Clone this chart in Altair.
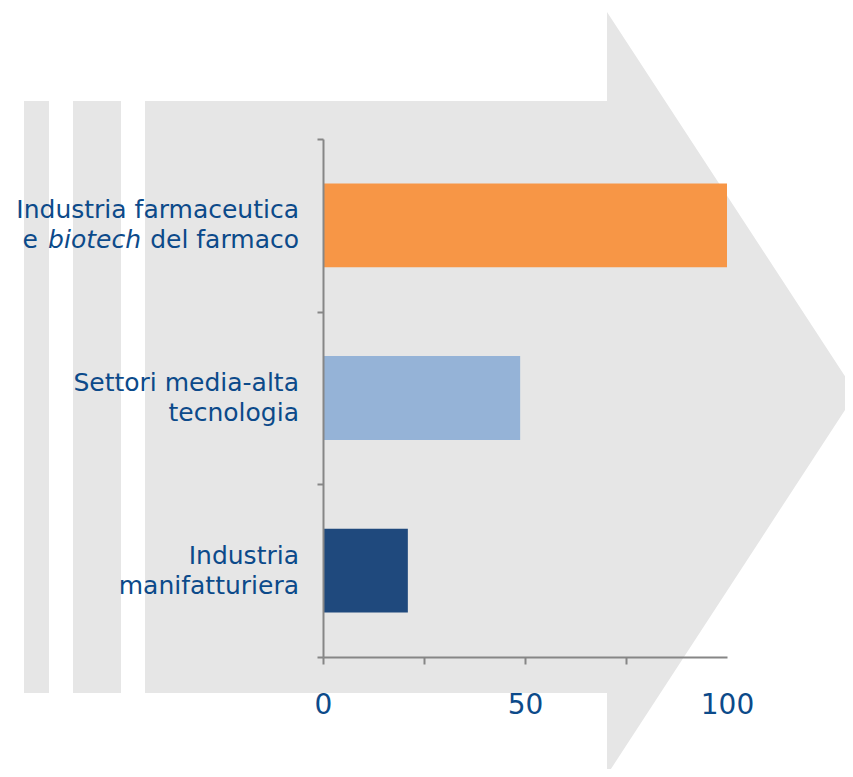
import altair as alt
import pandas as pd

# ---- data ----
categories = [
    "Industria farmaceutica e biotech del farmaco",
    "Settori media-alta tecnologia",
    "Industria manifatturiera",
]
values = [100, 48.8, 21.0]
bar_colors = ["#F79646", "#95B3D7", "#1F497D"]
label_line1 = ["Industria farmaceutica", "Settori media-alta", "Industria"]
# second line: segments from right to left, (text, italic)
label_line2 = [
    [("del farmaco", False), ("biotech", True), ("e", False)],
    [("tecnologia", False)],
    [("manifatturiera", False)],
]
x_ticks = [0, 25, 50, 75, 100]

# ---- styles / layout ----
TEXT_BLUE = "#0c4a8a"
AXIS_GREY = "#868686"
BG_GREY = "#E6E6E6"
FONT = "DejaVu Sans"
LABEL_SIZE = 25
slot_x = {0: -24, 1: -182, 2: -285}

bars_df = pd.DataFrame({"category": categories, "value": values})

rows = []
for cat, l1, l2 in zip(categories, label_line1, label_line2):
    rows.append({"category": cat, "line": 0, "slot": 0, "text": l1, "italic": False})
    for i, (t, it) in enumerate(l2):
        rows.append({"category": cat, "line": 1, "slot": i, "text": t, "italic": it})
labels_df = pd.DataFrame(rows)

Y = alt.Y(
    "category:N",
    sort=categories,
    title=None,
    scale=alt.Scale(domain=categories, paddingInner=0, paddingOuter=0),
    axis=alt.Axis(
        labels=False,
        title=None,
        tickBand="extent",
        tickSize=6,
        tickWidth=2,
        tickColor=AXIS_GREY,
        domainColor=AXIS_GREY,
        domainWidth=2,
        grid=False,
        zindex=1,
    ),
)

arrow_path = (
    "M-178,-38L284,-38L284,-127L533,254L284,636L284,554L-178,554Z"
    "M-299,-38L-274,-38L-274,554L-299,554Z"
    "M-250,-38L-202,-38L-202,554L-250,554Z"
)
background = (
    alt.Chart(pd.DataFrame({"a": [0]}))
    .mark_point(shape=arrow_path, size=4, filled=True, color=BG_GREY, opacity=1)
    .encode(x=alt.value(0), y=alt.value(0))
)

bars = (
    alt.Chart(bars_df)
    .mark_bar(height=alt.RelativeBandSize(0.486))
    .encode(
        y=Y,
        x=alt.X(
            "value:Q",
            scale=alt.Scale(domain=[0, 100], nice=False),
            axis=alt.Axis(
                values=x_ticks,
                title=None,
                grid=False,
                labelExpr="datum.value % 50 == 0 ? datum.label : ''",
                labelFlush=False,
                labelFont=FONT,
                labelFontSize=28,
                labelColor=TEXT_BLUE,
                labelPadding=27,
                tickSize=7,
                tickWidth=2,
                tickColor=AXIS_GREY,
                tickOpacity=alt.condition("datum.value >= 100", alt.value(0), alt.value(1)),
                domainColor=AXIS_GREY,
                domainWidth=2,
                zindex=1,
            ),
        ),
        color=alt.Color(
            "category:N",
            scale=alt.Scale(domain=categories, range=bar_colors),
            legend=None,
        ),
    )
)

text_layers = []
for line, dy in [(0, -15), (1, 15)]:
    for slot in [0, 1, 2]:
        sub = labels_df[(labels_df.line == line) & (labels_df.slot == slot)]
        if sub.empty:
            continue
        italic = bool(sub.italic.iloc[0])
        text_layers.append(
            alt.Chart(sub)
            .mark_text(
                align="right",
                baseline="middle",
                dy=dy,
                font=FONT,
                fontSize=LABEL_SIZE,
                fontStyle="italic" if italic else "normal",
                color=TEXT_BLUE,
            )
            .encode(y=Y, x=alt.value(slot_x[slot]), text="text:N")
        )

chart = (
    alt.layer(background, bars, *text_layers)
    .properties(
        width=404,
        height=518,
        autosize=alt.AutoSizeParams(type="none"),
        padding={"left": 315, "top": 131, "right": 118, "bottom": 112},
        background="white",
    )
    .configure_view(stroke=None)
)

chart.save("out.html", embed_options={"renderer": "svg", "actions": False})
